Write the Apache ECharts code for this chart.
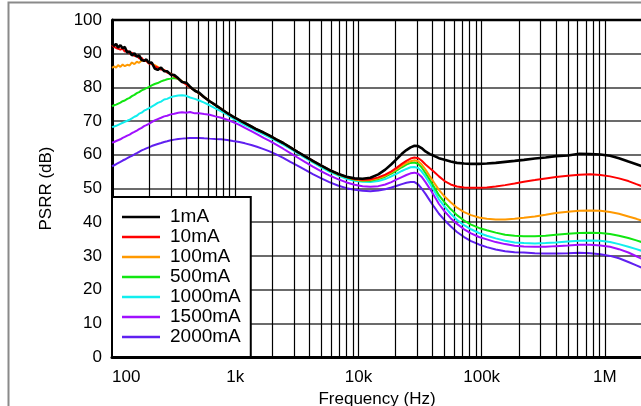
<!DOCTYPE html>
<html><head><meta charset="utf-8">
<script src="https://cdn.jsdelivr.net/npm/echarts@6/dist/echarts.min.js"></script>
<style>html,body{margin:0;padding:0;background:#fff}#c{width:641px;height:406px}</style>
</head><body><div id="c"></div>
<script>
// Frequency points (Hz)
const freq = [100,104,108,112,117,122,127,133,139,145,152,159,166,174,182,190,199,210,222,235,250,265,280,300,320,345,370,400,430,470,510,560,620,690,770,860,960,
1080,1200,1350,1500,1700,1900,2150,2450,2800,3200,3700,4300,5000,5800,6800,8000,9300,10800,
12500,14500,16500,18500,20500,22500,24500,26500,28500,30500,32500,35000,38000,41000,45000,50000,56000,63000,72000,82000,95000,
110000,130000,155000,185000,220000,270000,330000,400000,500000,620000,760000,920000,1100000,1300000,1550000,1800000,2100000];

const seriesNames = ['1mA','10mA','100mA','500mA','1000mA','1500mA','2000mA'];

const psrr1mA = [93.3,92.3,92.9,91.8,92.5,91.6,92.0,90.3,90.7,89.5,90.1,89.1,89.5,88.1,87.9,88.3,87.3,87.4,85.6,85.2,85.9,84.8,84.8,83.8,83.7,82.7,81.6,81.4,80.2,79.0,78.4,77.1,75.9,74.8,73.6,72.4,71.3,
70.3,69.4,68.4,67.5,66.6,65.7,64.6,63.5,62.2,60.9,59.5,58.1,56.8,55.5,54.4,53.5,53.0,52.9,
53.2,54.2,55.6,57.2,58.8,60.3,61.4,62.2,62.7,62.6,62.0,61.0,60.2,59.7,59.0,58.5,58.0,57.6,57.4,57.3,57.3,
57.4,57.6,57.9,58.2,58.5,58.9,59.2,59.6,59.8,60.3,60.2,60.1,59.7,59.0,58.0,57.2,56.3];

const psrr10mA = [92.6,92.0,91.7,91.9,91.2,91.5,90.6,90.9,90.0,90.3,89.3,89.5,88.6,88.8,87.8,87.9,87.1,87.0,86.2,85.9,85.3,85.2,84.4,84.0,83.3,82.6,81.7,80.9,80.0,79.1,78.2,77.1,75.9,74.7,73.6,72.4,71.3,
70.3,69.4,68.4,67.5,66.6,65.7,64.6,63.5,62.2,60.9,59.5,58.1,56.8,55.5,54.4,53.4,52.8,52.6,
52.7,53.3,54.1,55.1,56.2,57.3,58.2,58.9,59.2,59.0,58.3,57.1,56.0,55.0,53.6,52.2,51.2,50.6,50.3,50.2,50.2,
50.3,50.6,51.0,51.5,52.0,52.5,53.0,53.4,53.8,54.1,54.2,54.0,53.6,53.0,52.2,51.3,50.4];

const psrr100mA = [85.8,86.2,85.9,86.6,86.1,86.8,86.3,86.7,86.5,87.4,86.9,87.6,87.3,88.0,88.0,87.8,87.4,87.0,86.6,86.1,85.6,85.1,84.6,84.0,83.4,82.6,81.8,81.0,80.1,79.1,78.2,77.1,75.9,74.7,73.6,72.4,71.3,
70.3,69.4,68.4,67.5,66.6,65.7,64.6,63.5,62.2,60.9,59.5,58.1,56.8,55.5,54.3,53.4,52.7,52.4,
52.5,53.0,53.8,54.8,55.8,56.8,57.6,58.1,58.4,58.1,57.2,55.6,53.6,51.8,49.6,47.6,45.9,44.3,43.0,42.1,41.4,
41.0,40.8,40.8,41.0,41.3,41.7,42.2,42.7,43.1,43.4,43.5,43.4,43.0,42.5,41.7,41.0,40.2];

const psrr500mA = [74.4,74.7,74.9,75.2,75.5,75.9,76.1,76.6,76.9,77.4,77.8,78.3,78.6,79.1,79.4,79.8,80.1,80.6,81.0,81.3,81.8,82.1,82.4,82.6,82.8,82.5,81.8,81.0,80.1,79.1,78.2,77.1,75.9,74.7,73.6,72.4,71.3,
70.3,69.4,68.4,67.5,66.6,65.7,64.6,63.5,62.2,60.9,59.5,58.0,56.7,55.4,54.2,53.3,52.6,52.3,
52.3,52.8,53.5,54.4,55.4,56.3,57.1,57.6,57.7,57.3,56.3,54.6,52.5,50.5,48.0,45.9,43.9,42.1,40.5,39.3,38.3,
37.6,36.9,36.3,36.0,35.8,35.8,36.0,36.3,36.6,36.8,36.9,36.8,36.5,36.0,35.3,34.6,33.8];

const psrr1000mA = [68.2,68.4,68.6,68.9,69.2,69.5,69.8,70.1,70.4,70.8,71.3,71.6,72.2,72.5,73.1,73.4,73.8,74.3,74.8,75.4,75.8,76.4,76.6,77.1,77.4,77.6,77.7,77.5,77.0,76.6,76.1,75.5,74.7,73.8,72.9,71.9,70.8,
69.7,68.8,67.9,67.0,66.1,65.2,64.1,63.0,61.8,60.5,59.1,57.7,56.3,55.0,53.9,52.9,52.3,52.0,
51.9,52.2,52.8,53.6,54.4,55.2,55.8,56.3,56.4,56.1,55.1,53.5,51.4,49.4,46.8,44.6,42.5,40.7,39.1,37.9,36.8,
36.0,35.2,34.5,34.0,33.8,33.7,33.8,34.0,34.3,34.5,34.6,34.5,34.1,33.5,32.7,32.0,31.2];

const psrr1500mA = [63.6,63.8,64.1,64.3,64.6,65.0,65.3,65.7,66.0,66.4,66.8,67.2,67.6,68.0,68.5,68.8,69.2,69.7,70.2,70.6,71.0,71.4,71.6,72.0,72.2,72.5,72.6,72.5,72.7,72.3,72.3,72.1,71.9,71.4,71.0,70.4,69.7,
68.9,68.0,67.0,66.1,65.0,64.1,63.0,61.8,60.5,59.2,57.8,56.4,55.1,53.9,52.8,51.8,51.1,50.7,
50.5,50.7,51.2,51.9,52.7,53.4,54.0,54.5,54.7,54.4,53.5,51.9,49.9,47.9,45.4,43.2,41.2,39.5,37.9,36.7,35.6,
34.9,34.1,33.5,33.0,32.8,32.7,32.7,32.9,33.1,33.3,33.3,33.1,32.7,32.0,31.0,29.9,28.7];

const psrr2000mA = [56.6,56.9,57.2,57.5,57.9,58.3,58.6,59.0,59.4,59.7,60.1,60.5,60.9,61.3,61.6,61.9,62.2,62.6,62.9,63.2,63.5,63.8,64.0,64.3,64.5,64.7,64.8,64.9,65.0,65.0,65.0,64.9,64.8,64.7,64.6,64.4,64.1,
63.8,63.4,62.9,62.4,61.7,61.0,60.1,59.1,57.9,56.8,55.5,54.2,53.0,51.9,50.9,50.1,49.6,49.3,
49.2,49.4,49.8,50.3,50.8,51.3,51.7,51.9,51.9,51.2,50.0,48.4,46.4,44.6,42.5,40.6,38.8,37.1,35.6,34.4,33.4,
32.6,31.9,31.4,31.1,31.0,30.8,30.7,30.7,30.8,30.9,30.8,30.5,30.0,29.3,28.2,27.2,26.1];

const seriesValues = [psrr1mA, psrr10mA, psrr100mA, psrr500mA, psrr1000mA, psrr1500mA, psrr2000mA];
const seriesColors = ['#000000','#ff0000','#ff9900','#11e611','#11eeee','#a010ff','#6020f0'];
const seriesWidths = [2.6,2,2,2,2,2,2];

// axis ticks
const xTickValues = [100,1000,10000,100000,1000000];
const xTickLabels = ['100','1k','10k','100k','1M'];
const yTicks = [0,10,20,30,40,50,60,70,80,90,100];
// minor vertical grid lines
const minorGrid = [];
[100,1000,10000,100000,1000000].forEach(d=>{for(let k=2;k<=9;k++){minorGrid.push(d*k);}});

const FONT = 'Liberation Sans, Arial, Helvetica, sans-serif';
const chart = echarts.init(document.getElementById('c'), null, {renderer:'canvas'});

const series = [];
series.push({
  name:'_grid', type:'line', data:[], silent:true, z:1,
  markLine:{
    silent:true, symbol:['none','none'], label:{show:false},
    lineStyle:{color:'#000', width:1.2, type:'solid'},
    emphasis:{disabled:true},
    data: minorGrid.map(v=>({xAxis:v}))
  }
});
for (let i = seriesNames.length-1; i >= 0; i--) {
  series.push({
    name: seriesNames[i], type:'line', showSymbol:false, symbol:'none', z:3+(seriesNames.length-i),
    data: freq.map((f,j)=>[f, seriesValues[i][j]]),
    lineStyle:{color:seriesColors[i], width:seriesWidths[i]},
    itemStyle:{color:seriesColors[i]},
    emphasis:{disabled:true}, animation:false
  });
}

chart.setOption({
  animation:false,
  backgroundColor:'#ffffff',
  graphic:[
    {type:'rect', shape:{x:8.5,y:2.5,width:800,height:600}, style:{fill:null, stroke:'#8a8a8a', lineWidth:2}, silent:true, z:-10},
    {type:'line', shape:{x1:112, y1:20, x2:700, y2:20}, style:{stroke:'#000', lineWidth:2.5}, silent:true, z:5}
  ],
  grid:{left:112, top:20, width:530, height:337, show:false, containLabel:false, outerBoundsMode:'none'},
  xAxis:{
    type:'log', logBase:10, min:100, max:2000000,
    name:'Frequency (Hz)', nameLocation:'middle', nameGap:33,
    nameTextStyle:{fontFamily:FONT, fontSize:17, color:'#000'},
    axisLine:{show:true, lineStyle:{color:'#000', width:3}},
    axisTick:{show:false},
    axisLabel:{fontFamily:FONT, fontSize:17, color:'#000', margin:12, alignMinLabel:'left',
      formatter:function(v){const k=xTickValues.findIndex(t=>Math.abs(t-v)/t<1e-6); return k>=0?xTickLabels[k]:'';}},
    splitLine:{show:true, lineStyle:{color:'#000', width:1.2}},
    minorTick:{show:false}, minorSplitLine:{show:false}
  },
  yAxis:{
    type:'value', min:0, max:100, interval:10,
    name:'PSRR (dB)', nameLocation:'middle', nameGap:57,
    nameTextStyle:{fontFamily:FONT, fontSize:17, color:'#000'},
    axisLine:{show:true, lineStyle:{color:'#000', width:3}},
    axisTick:{show:false},
    axisLabel:{fontFamily:FONT, fontSize:17, color:'#000', margin:10,
      formatter:function(v){return yTicks.indexOf(v)>=0?String(v):'';}},
    splitLine:{show:true, lineStyle:{color:'#3a3a3a', width:1.5}}
  },
  legend:{
    data: seriesNames, orient:'vertical', left:112, top:197, icon:'rect',
    backgroundColor:'#ffffff', borderColor:'#000', borderWidth:2,
    padding:[10,10,10,10], itemGap:0, itemWidth:38, itemHeight:2.5,
    selectedMode:false,
    textStyle:{fontFamily:FONT, fontSize:19, color:'#000', lineHeight:20, padding:[0,0,0,5]},
    z:20
  },
  series: series
});
</script>
</body></html>
